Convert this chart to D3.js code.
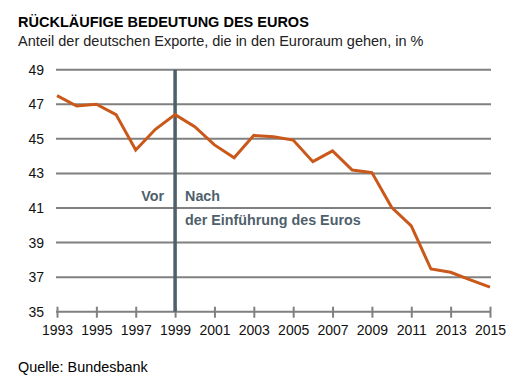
<!DOCTYPE html>
<html lang="de">
<head>
<meta charset="utf-8">
<style type="text/css">
body { margin: 0; background: #fff; }
svg { font-family: "Liberation Sans", Arial, sans-serif; }
.grid line { stroke: #808080; stroke-width: 2px; }
.tick text { fill: #111; font-size: 14px; }
</style>
</head>
<body>
<svg width="523" height="388"></svg>
<script src="https://cdn.jsdelivr.net/npm/d3@7"></script>
<script type="text/javascript">
// Anteil der deutschen Exporte in den Euroraum, in %
var years = [1993, 1994, 1995, 1996, 1997, 1998, 1999, 2000, 2001, 2002, 2003, 2004,
             2005, 2006, 2007, 2008, 2009, 2010, 2011, 2012, 2013, 2014, 2015];
var shares = [47.5, 46.9, 47.0, 46.4, 44.35, 45.55, 46.4, 45.7, 44.65, 43.9, 45.2, 45.12,
              44.93, 43.68, 44.3, 43.2, 43.05, 41.04, 39.96, 37.47, 37.28, 36.84, 36.42];
var yTicks = [35, 37, 39, 41, 43, 45, 47, 49];
var xTicks = [1993, 1995, 1997, 1999, 2001, 2003, 2005, 2007, 2009, 2011, 2013, 2015];
var euroYear = 1999;

var svg = d3.select("svg");

var x = d3.scaleLinear().domain([1993, 2015]).range([57, 490]);
var y = d3.scaleLinear().domain([35, 49]).range([311.7, 69.7]);

// titles
svg.append("text").attr("x", 18).attr("y", 27)
    .style("font-size", "14.5px").style("font-weight", "bold").attr("fill", "#000")
    .text("RÜCKLÄUFIGE BEDEUTUNG DES EUROS");
svg.append("text").attr("x", 18).attr("y", 46)
    .style("font-size", "14.5px").attr("fill", "#222")
    .text("Anteil der deutschen Exporte, die in den Euroraum gehen, in %");

// horizontal grid + y labels
var gy = svg.append("g").attr("class", "grid");
gy.selectAll("line").data(yTicks).enter().append("line")
    .attr("x1", x(1993) - 1).attr("x2", x(2015) + 1)
    .attr("y1", function (d) { return y(d); })
    .attr("y2", function (d) { return y(d); });

var yAxis = d3.axisLeft(y).tickValues(yTicks).tickSize(0).tickPadding(0);
svg.append("g").attr("transform", "translate(44,0)").call(yAxis)
    .call(function (g) { g.select(".domain").remove(); });

// x axis ticks
var xAxis = d3.axisBottom(x).tickValues(xTicks).tickFormat(d3.format("d"))
    .tickSize(11).tickPadding(4);
svg.append("g").attr("transform", "translate(0," + (y(35) - 5) + ")").call(xAxis)
    .call(function (g) {
        g.select(".domain").remove();
        g.selectAll(".tick line").attr("stroke", "#808080").attr("stroke-width", 2);
        g.selectAll(".tick text").attr("dy", "0.95em");
    });

// euro line
svg.append("line")
    .attr("x1", x(euroYear)).attr("x2", x(euroYear))
    .attr("y1", y(49)).attr("y2", y(35))
    .attr("stroke", "#4f5f6b").attr("stroke-width", 3.5);

var lab = svg.append("g").attr("fill", "#4f5f6b")
    .style("font-size", "14.3px").style("font-weight", "bold");
lab.append("text").attr("x", x(euroYear) - 11).attr("y", 201)
    .attr("text-anchor", "end").text("Vor");
lab.append("text").attr("x", x(euroYear) + 10).attr("y", 201).text("Nach");
lab.append("text").attr("x", x(euroYear) + 10).attr("y", 225).text("der Einführung des Euros");

// data line
var line = d3.line()
    .x(function (d, i) { return x(years[i]); })
    .y(function (d) { return y(d); });
svg.append("path").datum(shares)
    .attr("d", line)
    .attr("fill", "none")
    .attr("stroke", "#c9581a")
    .attr("stroke-width", 3)
    .attr("stroke-linejoin", "miter");

// source
svg.append("text").attr("x", 18).attr("y", 372)
    .style("font-size", "14.4px").attr("fill", "#000")
    .text("Quelle: Bundesbank");
</script>
</body>
</html>
